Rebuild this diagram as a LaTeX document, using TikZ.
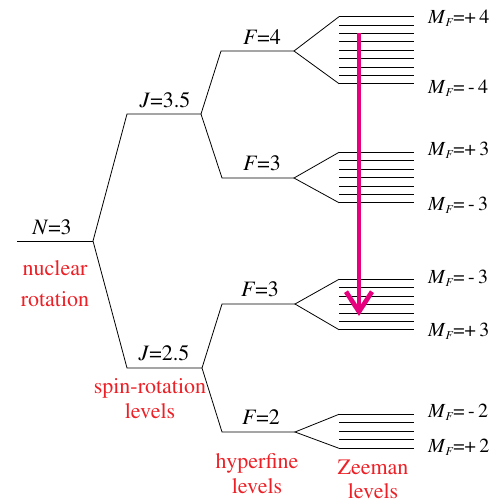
\documentclass[tikz,border=0pt]{standalone}
\usepackage[T1]{fontenc}
\usepackage{times}
\usetikzlibrary{arrows.meta}
\definecolor{lblred}{RGB}{236,32,38}
\definecolor{arrowpink}{RGB}{230,0,126}
\begin{document}
\begin{tikzpicture}[x=1pt,y=-1pt,
  lvl/.style={line width=0.8pt,black},
  qn/.style={anchor=base,inner sep=0pt,font=\fontsize{22}{24}\selectfont},
  mf/.style={anchor=base west,inner sep=0pt,font=\fontsize{20}{22}\selectfont},
  redlbl/.style={anchor=base,inner sep=0pt,text=lblred,font=\fontsize{22}{24}\selectfont}]
\useasboundingbox (0,0) rectangle (493,504);
% levels
\coordinate (Nl) at (17,241);  \coordinate (Nr) at (93,241);
\coordinate (Jal) at (127,114); \coordinate (Jar) at (201,114);
\coordinate (Jbl) at (127,368); \coordinate (Jbr) at (202,368);
\coordinate (F4l) at (221,51);  \coordinate (F4r) at (294,51);
\coordinate (F3al) at (222,178); \coordinate (F3ar) at (294,178);
\coordinate (F3bl) at (222,304); \coordinate (F3br) at (295,304);
\coordinate (F2l) at (222,432);  \coordinate (F2r) at (295,432);
\draw[lvl] (Nl) -- (Nr);
\draw[lvl] (Nr) -- (Jal) -- (Jar);
\draw[lvl] (Nr) -- (Jbl) -- (Jbr);
\draw[lvl] (Jar) -- (F4l) -- (F4r);
\draw[lvl] (Jar) -- (F3al) -- (F3ar);
\draw[lvl] (Jbr) -- (F3bl) -- (F3br);
\draw[lvl] (Jbr) -- (F2l) -- (F2r);
% Zeeman forks
\coordinate (Z4t) at (339,16.7); \coordinate (Z4b) at (339,83.7);
\coordinate (Z3at) at (339,152.3); \coordinate (Z3ab) at (339,202.7);
\coordinate (Z3bt) at (339,279.3); \coordinate (Z3bb) at (339,329.7);
\coordinate (Z2t) at (339,414.3); \coordinate (Z2b) at (339,448.3);
\draw[lvl] (Z4t) -- (F4r) -- (Z4b);
\draw[lvl] (Z3at) -- (F3ar) -- (Z3ab);
\draw[lvl] (Z3bt) -- (F3br) -- (Z3bb);
\draw[lvl] (Z2t) -- (F2r) -- (Z2b);
\foreach \i in {0,...,8} \draw[lvl] (339,16.7+\i*8.375) -- (414,16.7+\i*8.375);
\foreach \i in {0,...,6} \draw[lvl] (339,152.3+\i*8.4) -- (414,152.3+\i*8.4);
\foreach \i in {0,...,6} \draw[lvl] (339,279.3+\i*8.4) -- (414,279.3+\i*8.4);
\foreach \i in {0,...,4} \draw[lvl] (339,414.3+\i*8.5) -- (414,414.3+\i*8.5);
% quantum number labels
\node[qn] (tN) at (52,234) {\textit{N}=3};
\node[qn] (tJa) at (165,107) {\textit{J}=3.5};
\node[qn] (tJb) at (164,360) {\textit{J}=2.5};
\node[qn] (tF4) at (262,44) {\textit{F}=4};
\node[qn] (tF3a) at (262,170) {\textit{F}=3};
\node[qn] (tF3b) at (260,296) {\textit{F}=3};
\node[qn] (tF2) at (261,424) {\textit{F}=2};
% M_F labels
\newcommand{\mflab}[2]{\textit{M}\raisebox{-0.35ex}{\fontsize{12}{13}\selectfont\textit{F}}=#1\,#2}
\node[mf] (m1) at (428,23) {\mflab{+}{4}};
\node[mf] (m2) at (428,93) {\mflab{\,-}{4}};
\node[mf] (m3) at (428,155) {\mflab{+}{3}};
\node[mf] (m4) at (428,210) {\mflab{\,-}{3}};
\node[mf] (m5) at (428,283) {\mflab{\,-}{3}};
\node[mf] (m6) at (428,336) {\mflab{+}{3}};
\node[mf] (m7) at (428,417) {\mflab{\,-}{2}};
\node[mf] (m8) at (428,452) {\mflab{+}{2}};
% red labels
\node[redlbl] (r1) at (55,275) {nuclear};
\node[redlbl] (r2) at (55,306) {rotation};
\node[redlbl] (r3) at (150,393) {spin-rotation};
\node[redlbl] (r4) at (150,418) {levels};
\node[redlbl] (r5) at (257,468) {hyperfine};
\node[redlbl] (r6) at (257,493) {levels};
\node[redlbl] (r7) at (373,474) {Zeeman};
\node[redlbl] (r8) at (373,498) {levels};
% transition arrow
\coordinate (A1) at (359,33);
\coordinate (A2) at (359,316);
\draw[arrowpink,line width=4.7pt,-{Straight Barb[length=20pt,width=26pt,line width=4.7pt]}] (A1) -- (A2);
\end{tikzpicture}
\end{document}
